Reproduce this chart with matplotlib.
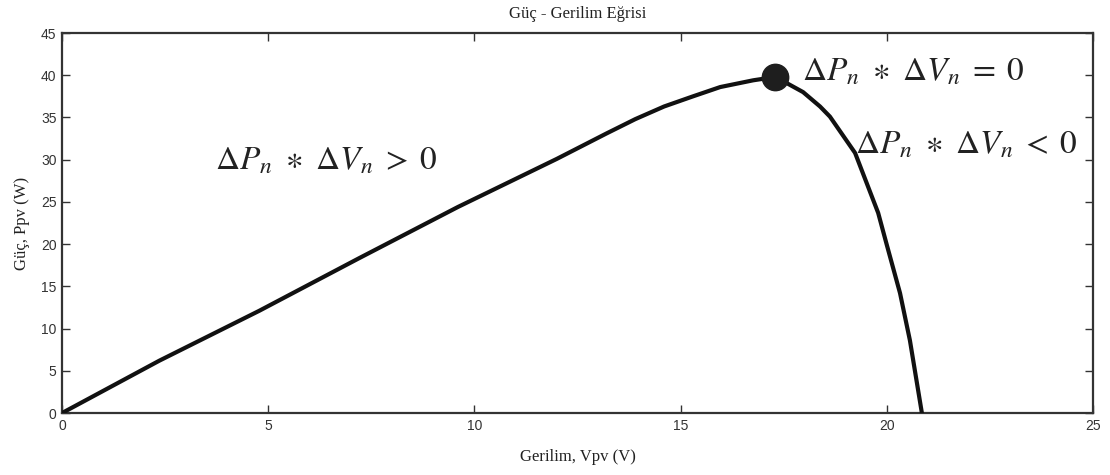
import matplotlib
matplotlib.use('Agg')
import matplotlib.pyplot as plt
import numpy as np

plt.rcParams['mathtext.fontset'] = 'stix'

# P-V curve of the PV module (voltage in V, power in W)
voltage = [0.0, 2.36, 4.78, 7.19, 9.6, 12.0, 13.2, 13.9, 14.6, 15.3, 15.96, 16.76, 17.3,
           17.97, 18.38, 18.62, 19.23, 19.79, 20.0, 20.32, 20.56, 20.85]
power = [0.0, 6.2, 12.1, 18.3, 24.4, 30.1, 33.1, 34.8, 36.3, 37.5, 38.6, 39.4, 39.8,
         38.0, 36.3, 35.1, 30.8, 23.7, 19.9, 14.2, 8.6, 0.0]

mpp_v, mpp_p = 17.3, 39.8

x_ticks = [0, 5, 10, 15, 20, 25]
y_ticks = [0, 5, 10, 15, 20, 25, 30, 35, 40, 45]

fig = plt.figure(figsize=(11.1, 4.75), dpi=100)
ax = fig.add_axes([0.0559, 0.1305, 0.9288, 0.8])

ax.plot(voltage, power, color='#111111', linewidth=3.0, solid_joinstyle='round',
        solid_capstyle='round', zorder=3)
ax.plot([mpp_v], [mpp_p], 'o', color='#1e1e1e', markersize=19, zorder=4)

# regions of the perturb & observe rule
ax.text(3.7, 30.0, r'$\Delta P_n\ \ast\ \Delta V_n\;>\;0$', fontsize=24,
        va='center', ha='left', color='#222222')
ax.text(17.95, 40.5, r'$\Delta P_n\ \ast\ \Delta V_n\;=\;0$', fontsize=24,
        va='center', ha='left', color='#222222')
ax.text(19.23, 31.8, r'$\Delta P_n\ \ast\ \Delta V_n\;<\;0$', fontsize=24,
        va='center', ha='left', color='#222222')

ax.set_xlim(0, 25)
ax.set_ylim(0, 45)
ax.set_xticks(x_ticks)
ax.set_yticks(y_ticks)
ax.tick_params(direction='in', length=6, width=1, top=True, right=True,
               labelsize=10, colors='#333333', pad=4)
for lbl in ax.get_xticklabels() + ax.get_yticklabels():
    lbl.set_family('Liberation Sans')
for s in ax.spines.values():
    s.set_linewidth(1.6)
    s.set_color('#333333')

ax.set_title('Güç - Gerilim Eğrisi', family='Liberation Serif', fontsize=12, pad=11,
             color='#222222')
ax.set_xlabel('Gerilim, Vpv (V)', family='Liberation Serif', fontsize=12, labelpad=12,
              color='#222222')
ax.set_ylabel('Güç, Ppv (W)', family='Liberation Serif', fontsize=12, labelpad=8,
              color='#222222')

fig.savefig('out.png', dpi=100)
